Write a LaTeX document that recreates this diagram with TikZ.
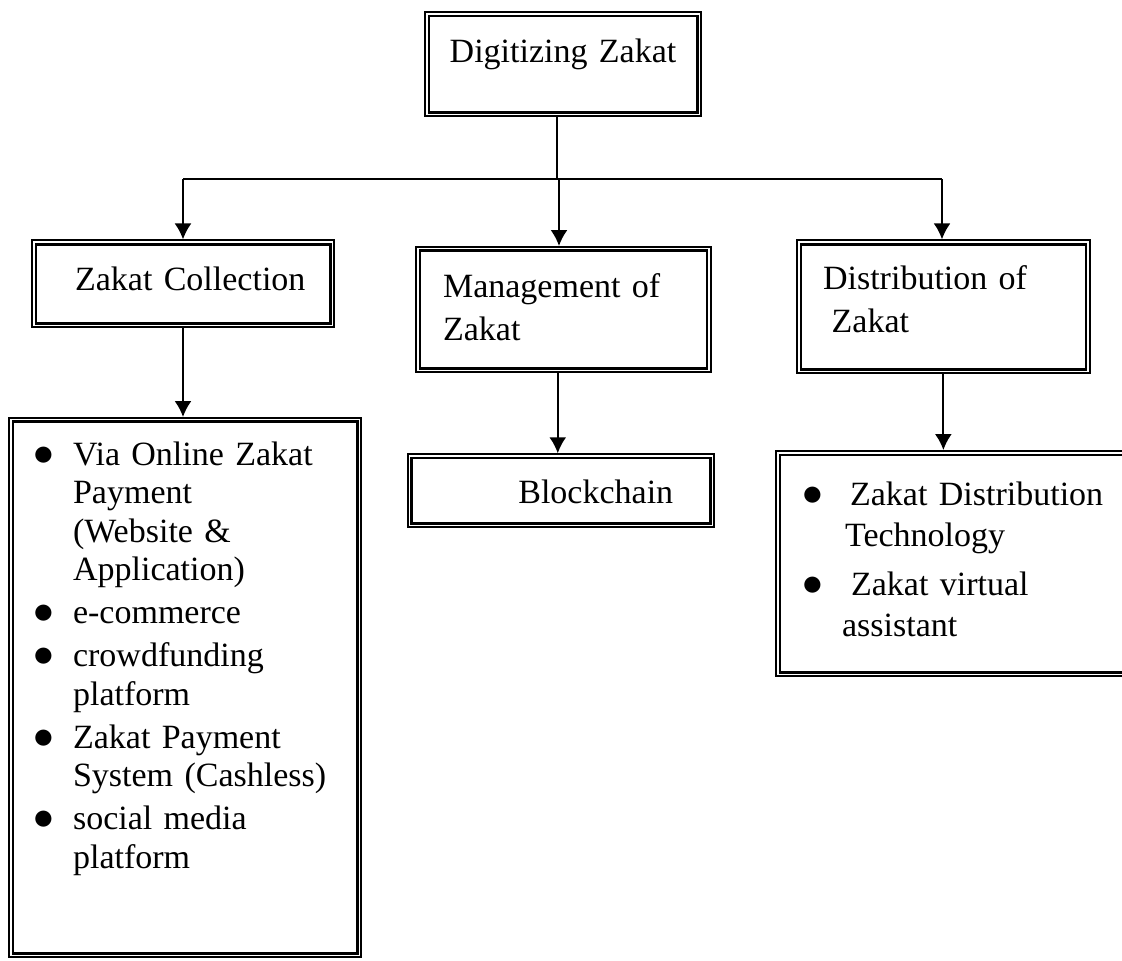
\documentclass[tikz,border=0pt]{standalone}
\usepackage{fontspec}
\setmainfont{Liberation Serif}
\usetikzlibrary{arrows.meta}

\newcommand{\bul}{\leavevmode\llap{{\fontsize{22}{22}\selectfont$\bullet$}\hspace{9.2pt}}}

\begin{document}
\begin{tikzpicture}[x=0.5pt, y=-0.5pt,
		block/.style={
			rectangle,
			draw=black, line width=1.35pt,
			inner sep=0pt, outer sep=2.4pt,
			align=left,
			font=\fontsize{17}{19.25}\selectfont
		},
		frame/.style={draw=black, line width=1pt},
		lpad/.style={execute at begin node={\leftskip=#1\relax}},
		link/.style={line width=0.75pt},
		arr/.style={-{Latex[length=8pt,width=8.5pt]}, line width=1pt}]

	\useasboundingbox (0,0) rectangle (1122,960);
	\clip (0,0) rectangle (1122,960);

	% Top node
	\node [block, align=center, text width=134.15pt, text height=23.1pt, text depth=25.3pt]
		(digit) at (563,64.25) {Digitizing Zakat};

	% The three branches
	\node [block, lpad=19.6pt, text width=147.15pt, text height=22.9pt, text depth=16.7pt]
		(coll) at (183,283.8) {Zakat Collection};
	\node [block, lpad=11.6pt, text width=143.5pt, text height=23.1pt, text depth=35.6pt]
		(mgmt) at (563.35,309.5) {Management of\\[2.25pt]Zakat};
	\node [block, lpad=11.1pt, text width=142.5pt, text height=22.9pt, text depth=39.6pt]
		(dist) at (943.35,306.65) {Distribution of\\[2.25pt]\hspace*{4.3pt}Zakat};

	% Collection list
	\node [block, lpad=30.1pt, text width=172.4pt, text height=21.6pt, text depth=244.1pt]
		(clist) at (185.25,687.5) {\bul Via Online Zakat\\Payment\\(Website \&\\Application)\\[2.25pt]
		\bul e-commerce\\[2.25pt]
		\bul crowdfunding\\platform\\[2.25pt]
		\bul Zakat Payment\\System (Cashless)\\[2.25pt]
		\bul social media\\platform};

	% Management result
	\node [block, lpad=53.4pt, text width=149.3pt, text height=22.6pt, text depth=10.1pt]
		(chain) at (560.85,490.8) {Blockchain};

	% Distribution list
	\node [block, lpad=31.1pt, text width=180.1pt, text height=25.1pt, text depth=83.8pt,
		font=\fontsize{17}{20.75}\selectfont]
		(dlist) at (960,563.75) {\bul\hspace*{4pt}Zakat Distribution\\\hspace*{1.5pt}Technology\\[3.5pt]
		\bul\hspace*{4.5pt}Zakat virtual\\assistant};

	%% Outer lines of the double borders
	\foreach \n in {digit,coll,mgmt,dist,clist,chain,dlist}
		\draw [frame] ([shift={(0.5pt,-0.5pt)}]\n.north west) rectangle
			([shift={(-0.5pt,0.5pt)}]\n.south east);

	%% Connectors
	\coordinate (busL) at (183,179);
	\coordinate (busM) at (559,179);
	\coordinate (busR) at (942,179);
	\draw [link] ([xshift=-3pt]digit.south) -- ([xshift=-3pt]digit.south |- busL);
	\draw [link] (busL) -- (busR);
	\draw [arr] (busL) -- (busL |- coll.north);
	\draw [arr] (busM) -- (busM |- mgmt.north);
	\draw [arr] (busR) -- (busR |- dist.north);
	\draw [arr] (coll.south) -- (coll.south |- clist.north);
	\draw [arr] ([xshift=-2.8pt]mgmt.south) -- ([xshift=-2.8pt]mgmt.south |- chain.north);
	\draw [arr] (dist.south) -- (dist.south |- dlist.north);
\end{tikzpicture}
\end{document}
